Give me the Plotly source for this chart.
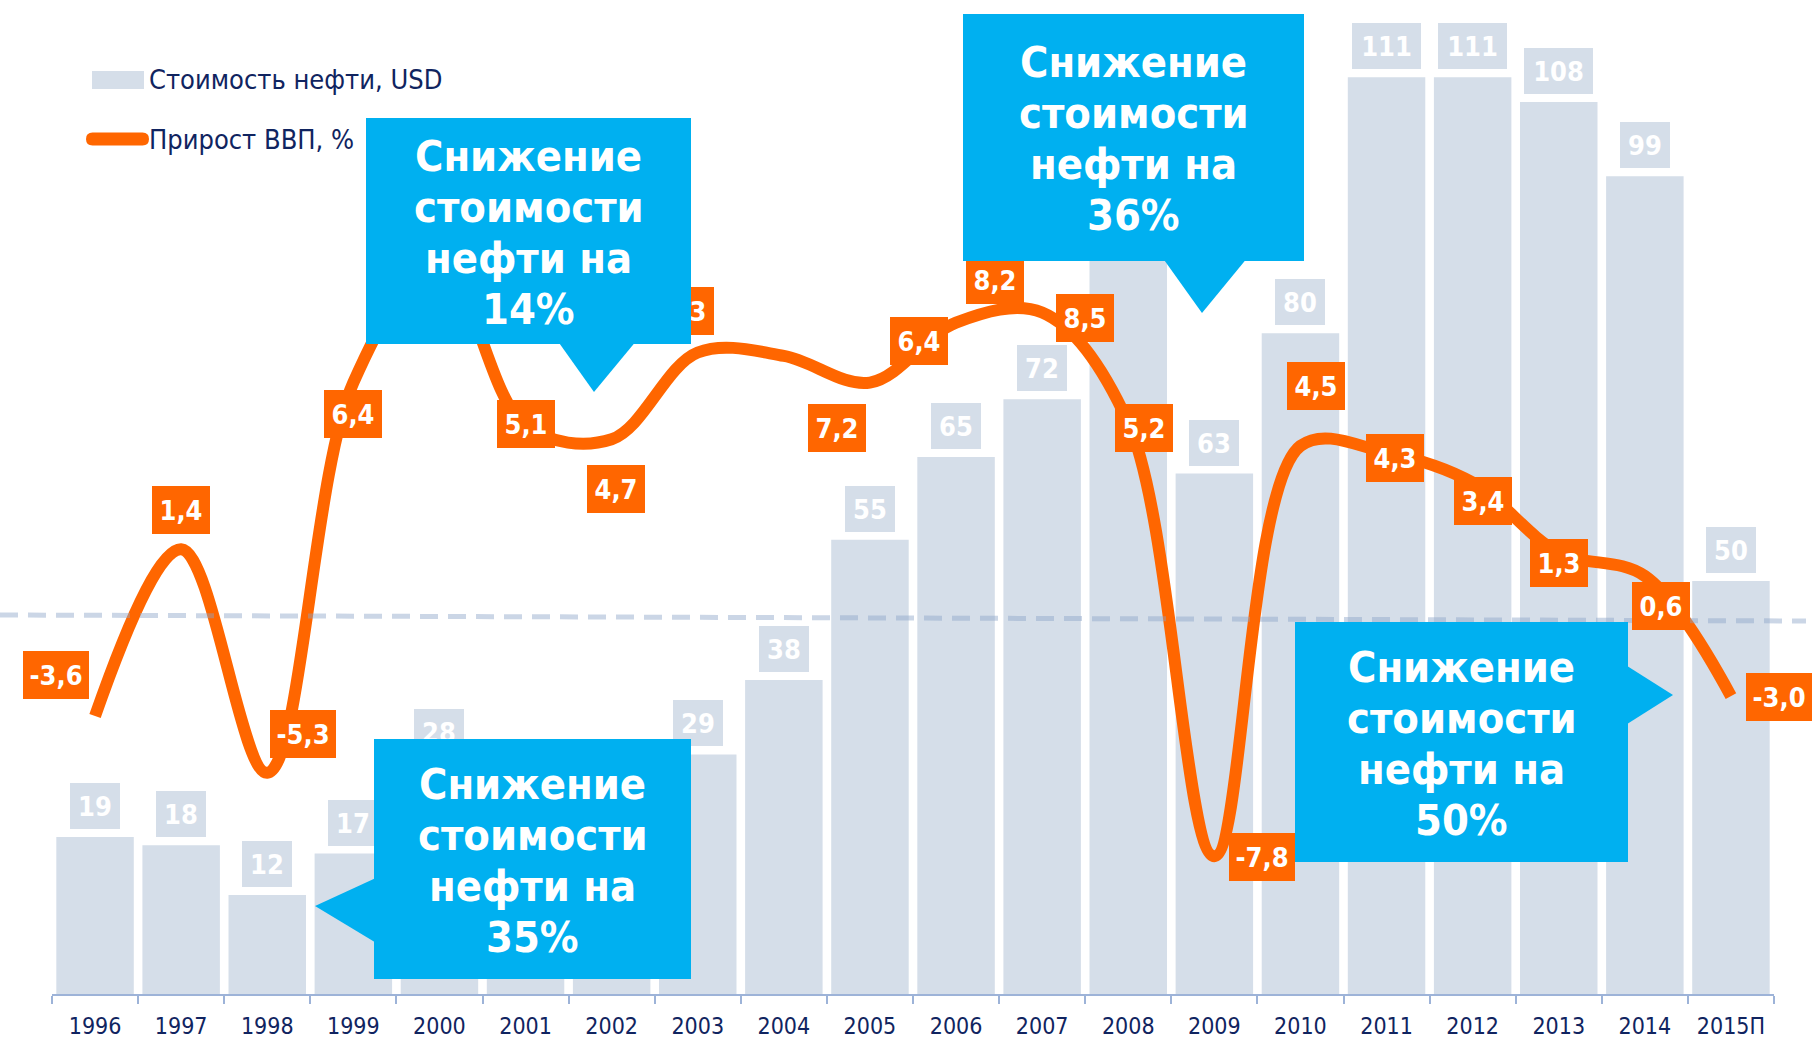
import plotly.graph_objects as go

W, H = 1816, 1045

# ---------------- data ----------------
years = ["1996", "1997", "1998", "1999", "2000", "2001", "2002", "2003", "2004", "2005",
         "2006", "2007", "2008", "2009", "2010", "2011", "2012", "2013", "2014", "2015П"]
oil_price = [19, 18, 12, 17, 28, 24, 24, 29, 38, 55, 65, 72, 97, 63, 80, 111, 111, 108, 99, 50]
gdp_growth = [-3.6, 1.4, -5.3, 6.4, 10.0, 5.1, 4.7, 7.3, 7.2, 6.4, 8.2, 8.5, 5.2, -7.8, 4.5,
              4.3, 3.4, 1.3, 0.6, -3.0]
legend_names = ["Стоимость нефти, USD", "Прирост ВВП, %"]
callout_lines = [["Снижение", "стоимости", "нефти на", "14%"],
                 ["Снижение", "стоимости", "нефти на", "36%"],
                 ["Снижение", "стоимости", "нефти на", "35%"],
                 ["Снижение", "стоимости", "нефти на", "50%"]]

oil_labels = [str(v) for v in oil_price]
gdp_labels = [f"{v:.1f}".replace(".", ",") for v in gdp_growth]

# ---------------- styling / layout ----------------
BAR_C = "#D5DEE9"
ORANGE = "#FF6600"
BLUE = "#00B0F0"
NAVY = "#102460"
FONT = "DejaVu Sans Condensed, DejaVu Sans, sans-serif"

# pixel offsets of the GDP labels relative to their points (xshift, yshift)
gdp_label_shift = [(-39, 41), (0, 39), (36, 39), (0, -31), (0, 0), (0, 2), (4, -50), (-13, 42),
                   (53, -72), (49, 42), (39, 43), (43, -5), (16, -5), (48, -1), (16, 60),
                   (8, -5), (10, -18), (0, -10), (16, -30), (48, -1)]

def px(x):
    return x / W

def py(y):
    return 1 - y / H

# plot area in pixels
X0, X1 = 52, 1774
Y_AXIS, Y_TOP = 994, 20
bar_px_per_unit = 8.26
gdp_zero_px, gdp_px_per_unit = 596, 33.35

y_range = [0, (Y_AXIS - Y_TOP) / bar_px_per_unit]
y2_range = [-(Y_AXIS - gdp_zero_px) / gdp_px_per_unit, (gdp_zero_px - Y_TOP) / gdp_px_per_unit]

fig = go.Figure()
fig.add_trace(go.Bar(x=years, y=oil_price, marker=dict(color=BAR_C, line=dict(width=0)),
                     showlegend=False, hoverinfo="skip"))
fig.add_trace(go.Scatter(x=years, y=gdp_growth, yaxis="y2", mode="lines",
                         line=dict(color=ORANGE, width=12, shape="spline", smoothing=1.0),
                         showlegend=False, hoverinfo="skip"))

annotations = []
# bar value labels (x given as category index)
for i, (v, t) in enumerate(zip(oil_price, oil_labels)):
    annotations.append(dict(x=i, y=v, xref="x", yref="y", text=f"<b>{t}</b>", showarrow=False,
                            yanchor="bottom", xanchor="center", yshift=8,
                            bgcolor=BAR_C, borderpad=0, borderwidth=0,
                            width=12 + 19 * len(t), height=46,
                            font=dict(family=FONT, size=27, color="white")))
# GDP labels
for i, (v, t, (dx, dy)) in enumerate(zip(gdp_growth, gdp_labels, gdp_label_shift)):
    annotations.append(dict(x=i, y=v, xref="x", yref="y2", text=f"<b>{t}</b>", showarrow=False,
                            xanchor="center", yanchor="middle", xshift=dx, yshift=dy,
                            bgcolor=ORANGE, borderpad=0, borderwidth=0,
                            width=58 if len(t) == 3 else 66, height=48,
                            font=dict(family=FONT, size=27, color="white")))

# callout boxes (pixel boxes: x0, y0, x1, y1)
callout_boxes = [(366, 118, 691, 344), (963, 14, 1304, 261), (374, 739, 691, 979), (1295, 622, 1628, 862)]
callout_ptrs = [
    [(557, 340), (637, 340), (594, 392)],
    [(1162, 257), (1248, 257), (1202, 313)],
    [(378, 877), (378, 944), (315, 906)],
    [(1624, 664), (1624, 726), (1673, 695)],
]
LINE_STEP = 51
shapes = []
for (x0, y0, x1, y1), lines in zip(callout_boxes, callout_lines):
    annotations.append(dict(x=px(x0), y=py(y0), xref="paper", yref="paper",
                            text=" ", showarrow=False, xanchor="left", yanchor="top",
                            width=x1 - x0, height=y1 - y0, bgcolor=BLUE, borderpad=0, borderwidth=0))
    cx, cy = (x0 + x1) / 2, (y0 + y1) / 2 + 1
    n = len(lines)
    for k, ln in enumerate(lines):
        yy = cy + (k - (n - 1) / 2) * LINE_STEP
        annotations.append(dict(x=px(cx), y=py(yy), xref="paper", yref="paper",
                                text=f"<b>{ln}</b>", showarrow=False, xanchor="center", yanchor="middle",
                                font=dict(family=FONT, size=43, color="white")))
for pts in callout_ptrs:
    path = "M " + " L ".join(f"{px(a):.5f},{py(b):.5f}" for a, b in pts) + " Z"
    shapes.append(dict(type="path", path=path, xref="paper", yref="paper",
                       fillcolor=BLUE, line=dict(width=0), layer="above"))

# dashed reference line
shapes.append(dict(type="line", xref="paper", yref="paper", x0=0, y0=py(615), x1=px(1806), y1=py(621),
                   line=dict(color="rgba(140,165,200,0.45)", width=5, dash="18px,10px"), layer="above"))

# legend
shapes.append(dict(type="rect", xref="paper", yref="paper", x0=px(92), y0=py(71), x1=px(144), y1=py(89),
                   fillcolor=BAR_C, line=dict(width=0), layer="above"))
# rounded orange legend stroke
lx0, lx1, lyc, r = 86, 149, 139, 6.5
pill = (f"M {px(lx0 + r)},{py(lyc - r)} L {px(lx1 - r)},{py(lyc - r)} "
        f"Q {px(lx1)},{py(lyc - r)} {px(lx1)},{py(lyc)} Q {px(lx1)},{py(lyc + r)} {px(lx1 - r)},{py(lyc + r)} "
        f"L {px(lx0 + r)},{py(lyc + r)} Q {px(lx0)},{py(lyc + r)} {px(lx0)},{py(lyc)} "
        f"Q {px(lx0)},{py(lyc - r)} {px(lx0 + r)},{py(lyc - r)} Z")
shapes.append(dict(type="path", path=pill, xref="paper", yref="paper", fillcolor=ORANGE,
                   line=dict(width=0), layer="above"))
for name, yy in zip(legend_names, [80, 139]):
    annotations.append(dict(x=px(147), y=py(yy), xref="paper", yref="paper", text=name, showarrow=False,
                            xanchor="left", yanchor="middle",
                            font=dict(family=FONT, size=27, color=NAVY)))

fig.update_layout(
    width=W, height=H, autosize=False,
    margin=dict(l=0, r=0, t=0, b=0),
    paper_bgcolor="white", plot_bgcolor="white",
    bargap=0.1,
    showlegend=False,
    xaxis=dict(domain=[px(X0), px(X1)], type="category", range=[-0.5, 19.5],
               showline=True, linecolor="#9DB3D8", linewidth=2,
               ticks="outside", tickson="boundaries", ticklen=8, tickcolor="#9DB3D8", tickwidth=2,
               tickfont=dict(family=FONT, size=23, color=NAVY), ticklabelstandoff=10,
               showgrid=False, zeroline=False),
    yaxis=dict(domain=[py(Y_AXIS), py(Y_TOP)], range=y_range, visible=False, showgrid=False),
    yaxis2=dict(domain=[py(Y_AXIS), py(Y_TOP)], range=y2_range, overlaying="y", visible=False,
                showgrid=False),
    shapes=shapes,
    annotations=annotations,
)

fig.write_html("out.html", config={"displayModeBar": False},
               post_script="document.body.style.margin='0';document.body.style.overflow='hidden';")
